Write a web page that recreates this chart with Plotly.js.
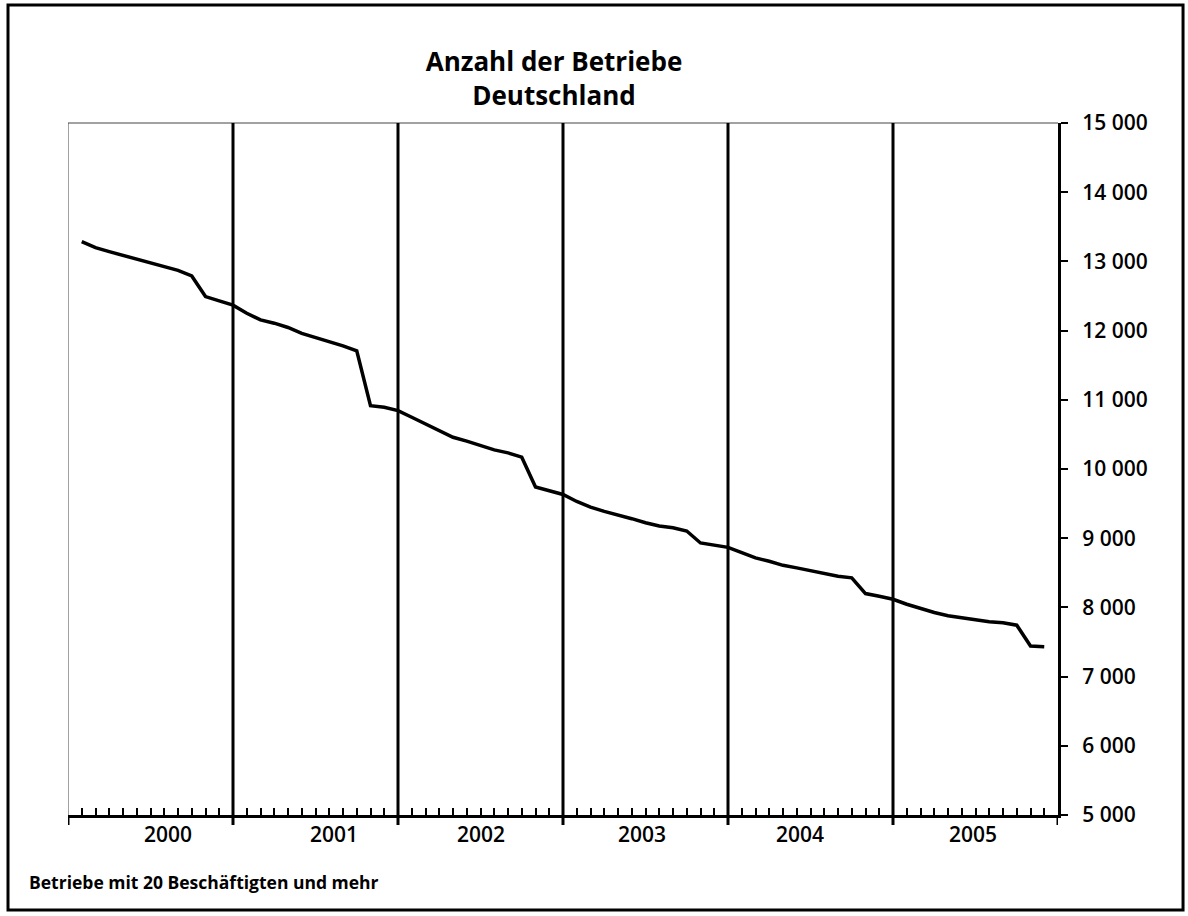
<!DOCTYPE html>
<html>
<head>
<meta charset="utf-8">
<script src="https://cdn.plot.ly/plotly-3.0.1.min.js"></script>
<style>
html,body{margin:0;padding:0;background:#fff;}
#chart{width:1188px;height:916px;}
</style>
</head>
<body>
<div id="chart"></div>
<script>
// Year group labels for the category axis
const years = ['2000', '2001', '2002', '2003', '2004', '2005'];

// Number of establishments (Betriebe), monthly
const betriebe2000 = [13285, 13198, 13141, 13087, 13044, 12982, 12925, 12871, 12789, 12492, 12429, 12367];
const betriebe2001 = [12251, 12155, 12107, 12045, 11959, 11901, 11843, 11780, 11708, 10915, 10892, 10843];
const betriebe2002 = [10748, 10651, 10555, 10459, 10402, 10338, 10276, 10233, 10171, 9739, 9690, 9632];
const betriebe2003 = [9531, 9450, 9387, 9339, 9282, 9224, 9176, 9152, 9104, 8931, 8897, 8868];
const betriebe2004 = [8791, 8715, 8666, 8608, 8571, 8528, 8489, 8450, 8427, 8200, 8161, 8118];
const betriebe2005 = [8046, 7984, 7926, 7879, 7850, 7826, 7792, 7778, 7743, 7441, 7432];

// Y axis ticks
const yTicks = [5000, 6000, 7000, 8000, 9000, 10000, 11000, 12000, 13000, 14000, 15000];

const values = [].concat(betriebe2000, betriebe2001, betriebe2002, betriebe2003, betriebe2004, betriebe2005);
const monthPos = values.map((v, i) => i + 1);

// layout helpers (label placement under each year group, in month units)
const yearLabelPos = [7.24, 19.35, 30.0, 41.75, 53.2, 65.8];
const monthsPerYear = 12;
const nMonths = years.length * monthsPerYear;

const shapes = [];
// thin plot border left and top
shapes.push({type:'line', xref:'x', yref:'paper', x0:0, x1:0, y0:0, y1:1, line:{color:'#444', width:1}});
shapes.push({type:'line', xref:'x', yref:'paper', x0:0, x1:nMonths, y0:1, y1:1, line:{color:'#444', width:1}});
// year separators
for (let k = 0; k <= years.length; k++) {
  const xv = k * monthsPerYear;
  if (k > 0 && k < years.length) {
    shapes.push({type:'line', xref:'x', yref:'paper', x0:xv, x1:xv, y0:-0.0145, y1:1, line:{color:'#000', width:3}});
  } else {
    shapes.push({type:'line', xref:'x', yref:'paper', x0:xv, x1:xv, y0:-0.0145, y1:0, line:{color:'#000', width:3}});
  }
}
// outer frame
shapes.push({type:'rect', xref:'paper', yref:'paper', x0:-0.0606, x1:1.1263, y0:-0.1373, y1:1.1705,
  line:{color:'#000', width:3}, fillcolor:'rgba(0,0,0,0)', layer:'below'});

const annotations = years.map((y, i) => ({
  text: y, xref:'x', yref:'paper', x: yearLabelPos[i], y: -0.028,
  xanchor:'center', yanchor:'middle', showarrow:false,
  font:{family:'Open Sans', size:21, color:'#000', weight:600}
}));
annotations.push({
  text:'Betriebe mit 20 Beschäftigten und mehr', xref:'paper', yref:'paper',
  x:-0.0414, y:-0.0968, xanchor:'left', yanchor:'middle', showarrow:false,
  font:{family:'Open Sans', size:17.5, color:'#000', weight:'bold'}
});

const trace = {
  x: monthPos, y: values, type:'scatter', mode:'lines',
  line:{color:'#000', width:3.5}, hoverinfo:'y'
};

const layout = {
  width:1188, height:916,
  margin:{l:68, r:130, t:123, b:101},
  paper_bgcolor:'#fff', plot_bgcolor:'#fff',
  separators:', ',
  showlegend:false,
  title:{text:'Anzahl der Betriebe<br>Deutschland', x:554/1188, xanchor:'center', xref:'container',
    y:1-71/916, yanchor:'middle', yref:'container',
    font:{family:'Open Sans', size:26, color:'#000', weight:'bold'}},
  xaxis:{range:[0, nMonths], showgrid:false, zeroline:false, showline:true, linecolor:'#000', linewidth:3,
    tickmode:'linear', tick0:0, dtick:1, ticks:'inside', ticklen:7, tickwidth:2, tickcolor:'#000',
    showticklabels:false, fixedrange:true},
  yaxis:{range:[5000, 15000], side:'right', showgrid:false, zeroline:false, showline:true,
    linecolor:'#000', linewidth:3, tickvals:yTicks, tickformat:',d', ticks:'outside', ticklen:7,
    tickwidth:2, tickcolor:'#000', ticklabelstandoff:10,
    tickfont:{family:'Open Sans', size:21, color:'#000', weight:600}, fixedrange:true},
  shapes: shapes,
  annotations: annotations
};

Plotly.newPlot('chart', [trace], layout, {displayModeBar:false, staticPlot:true});
</script>
</body>
</html>
